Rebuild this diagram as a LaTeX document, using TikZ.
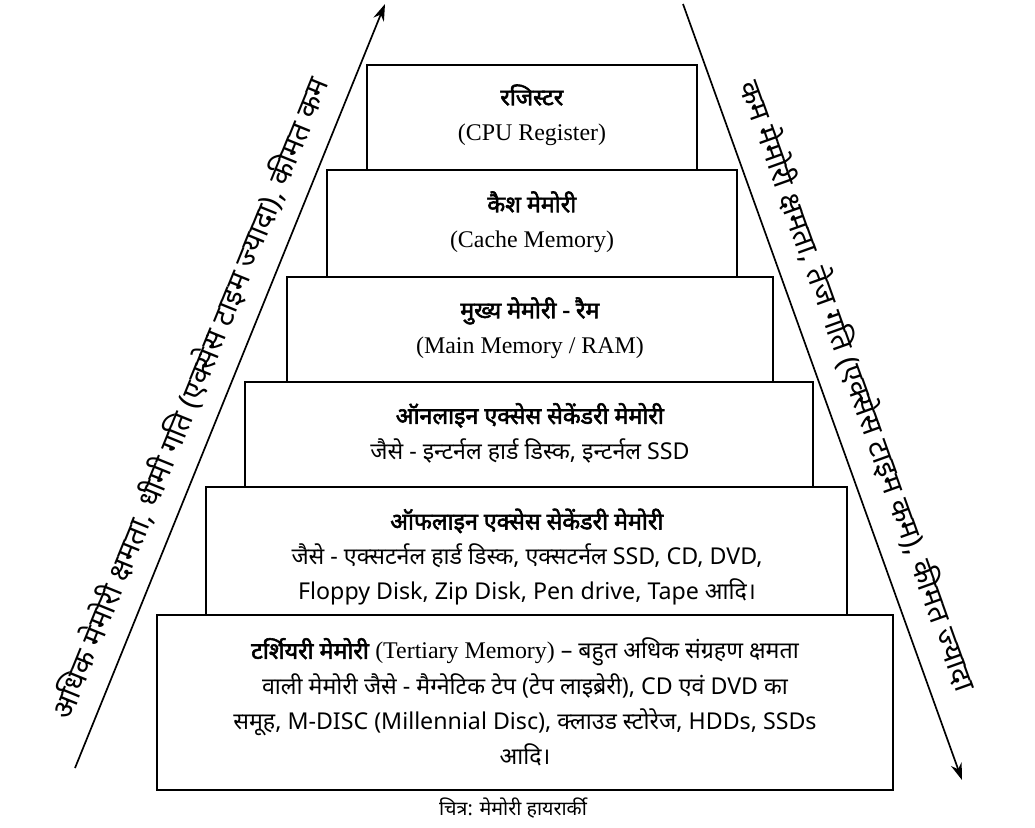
\documentclass[tikz,border=0pt]{standalone}
\usepackage{fontspec}
\usetikzlibrary{arrows.meta}
\setmainfont{Liberation Serif}
\newfontfamily\hindi[Script=Devanagari,BoldFont={Noto Sans},BoldFeatures={FakeBold=2.5}]{Noto Sans}
\begin{document}
\begin{tikzpicture}[x=0.025cm,y=-0.025cm]
	\tikzset{level/.style={draw, line width=0.8pt}}
	\tikzset{ltext/.style={align=center, font=\hindi\fontsize{16.5}{25}\selectfont}}
	\tikzset{side/.style={line width=1.2pt, -{Stealth[length=12pt,width=8pt]}}}

	\useasboundingbox (0,0) rectangle (1035,828);

	% levels of the hierarchy
	\draw[level] (367,65) rectangle (697,170);
	\draw[level] (327,170) rectangle (737,277);
	\draw[level] (287,277) rectangle (773,382);
	\draw[level] (245,382) rectangle (813,487);
	\draw[level] (206,487) rectangle (847,615);
	\draw[level] (157,615) rectangle (893,790);

	\node[ltext] (reg) at (532,115) {\textbf{रजिस्टर}\\{\rmfamily\fontsize{17}{25}\selectfont (CPU Register)}};
	\node[ltext] (cache) at (532,222) {\textbf{कैश मेमोरी}\\{\rmfamily\fontsize{17}{25}\selectfont (Cache Memory)}};
	\node[ltext] (main) at (530,328) {\textbf{मुख्य मेमोरी - रैम}\\{\rmfamily\fontsize{17}{25}\selectfont (Main Memory / RAM)}};
	\node[ltext] (online) at (530,433) {\textbf{ऑनलाइन एक्सेस सेकेंडरी मेमोरी}\\जैसे - इन्टर्नल हार्ड डिस्क, इन्टर्नल SSD};
	\node[ltext] (offline) at (527,557) {\textbf{ऑफलाइन एक्सेस सेकेंडरी मेमोरी}\\जैसे - एक्सटर्नल हार्ड डिस्क, एक्सटर्नल SSD, CD, DVD,\\Floppy Disk, Zip Disk, Pen drive, Tape आदि।};
	\node[ltext] (tert) at (525,702) {\textbf{टर्शियरी मेमोरी} {\rmfamily\fontsize{17}{25}\selectfont (Tertiary Memory)} – बहुत अधिक संग्रहण क्षमता\\वाली मेमोरी जैसे - मैग्नेटिक टेप (टेप लाइब्रेरी), CD एवं DVD का\\समूह, M-DISC (Millennial Disc), क्लाउड स्टोरेज, HDDs, SSDs\\आदि।};

	\node[font=\hindi\fontsize{14}{15}\selectfont] (cap) at (513,808) {चित्र: मेमोरी हायरार्की};

	% side arrows
	\coordinate (lb) at (75,768);
	\coordinate (lt) at (385,4);
	\coordinate (rt) at (683,4);
	\coordinate (rb) at (962,780);
	\draw[side] (lb) -- (lt);
	\draw[side] (rt) -- (rb);
	\node[font=\hindi\fontsize{21}{23}\selectfont, rotate=67.9] (ltxt) at (190,398)
		{अधिक मेमोरी क्षमता, धीमी गति (एक्सेस टाइम ज्यादा), कीमत कम};
	\node[font=\hindi\fontsize{21}{23}\selectfont, rotate=-70.3] (rtxt) at (858,386)
		{कम मेमोरी क्षमता, तेज गति (एक्सेस टाइम कम), कीमत ज्यादा};
\end{tikzpicture}
\end{document}
